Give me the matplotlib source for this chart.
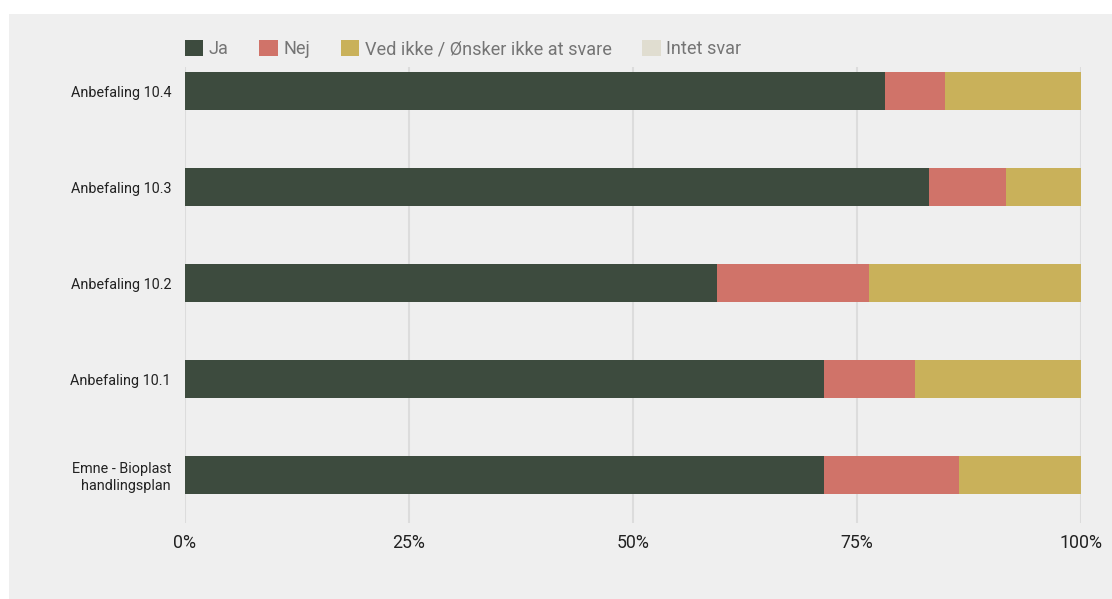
import matplotlib.pyplot as plt
from matplotlib.patches import Rectangle, Patch
from matplotlib.ticker import FuncFormatter

plt.rcParams['font.family'] = ['Roboto', 'DejaVu Sans']

categories = ["Emne - Bioplast\nhandlingsplan", "Anbefaling 10.1", "Anbefaling 10.2",
              "Anbefaling 10.3", "Anbefaling 10.4"]
ja = [71.3, 71.3, 59.4, 83.0, 78.1]
nej = [15.1, 10.2, 16.9, 8.6, 6.7]
ved_ikke = [13.6, 18.5, 23.7, 8.4, 15.2]
intet_svar = [0, 0, 0, 0, 0]

series = ["Ja", "Nej", "Ved ikke / Ønsker ikke at svare", "Intet svar"]
colors = ["#3d4b3e", "#d07369", "#c9b15a", "#e0ddd0"]

W, H = 1112, 599
fig = plt.figure(figsize=(W / 100, H / 100), dpi=100, facecolor="white")
fig.patches.append(Rectangle((9 / W, 0), 1 - 9 / W, 1 - 14 / H, transform=fig.transFigure,
                             facecolor="#efefef", edgecolor="none", zorder=-10))
ax = fig.add_axes([185 / W, 1 - 523 / H, (1081 - 185) / W, (523 - 67) / H])
ax.set_facecolor("none")

y = range(len(categories))
left = [0] * len(categories)
for name, vals, c in zip(series, [ja, nej, ved_ikke, intet_svar], colors):
    ax.barh(y, vals, left=left, height=0.4, color=c, label=name, zorder=3)
    left = [a + b for a, b in zip(left, vals)]

ax.set_xlim(0, 100)
ax.set_ylim(-0.5, 4.25)
ax.set_xticks([0, 25, 50, 75, 100])
ax.xaxis.set_major_formatter(FuncFormatter(lambda v, _: f"{v:.0f}%"))
ax.set_yticks(list(y))
ax.set_yticklabels(categories, fontsize=10.4, color="#222222")
ax.tick_params(axis="x", length=0, pad=8, labelsize=12.8, labelcolor="#222222")
ax.tick_params(axis="y", length=0, pad=10)
ax.grid(axis="x", color="#dcdcdc", lw=1.5, zorder=0)
for s in ax.spines.values():
    s.set_visible(False)

handles = [Patch(facecolor=c, edgecolor="none") for c in colors]
leg = fig.legend(handles, series, loc="center left", bbox_to_anchor=(185 / W, 1 - 49 / H),
                 ncol=4, frameon=False, fontsize=13.1, handlelength=1.0, handleheight=1.0,
                 handletextpad=0.3, columnspacing=1.7, borderaxespad=0, borderpad=0)
for t in leg.get_texts():
    t.set_color("#757575")

fig.savefig("out.png", dpi=100, facecolor=fig.get_facecolor())
